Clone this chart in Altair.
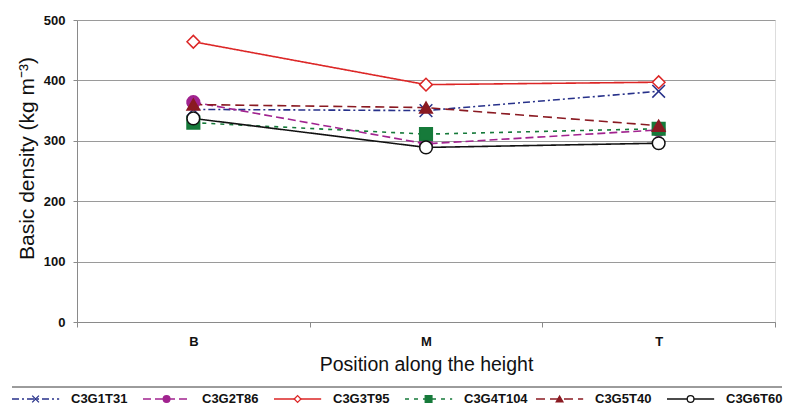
import altair as alt
import pandas as pd

# Positions along the stem height
positions = ["B", "M", "T"]

# Trees (clone 3) and their basic density at each position, kg m-3
series = ["C3G1T31", "C3G2T86", "C3G3T95", "C3G4T104", "C3G5T40", "C3G6T60"]
c3g1t31 = [352, 350, 382]
c3g2t86 = [364, 295, 318]
c3g3t95 = [464, 393, 397]
c3g4t104 = [330, 311, 320]
c3g5t40 = [360, 355, 325]
c3g6t60 = [337, 289, 296]
values = [c3g1t31, c3g2t86, c3g3t95, c3g4t104, c3g5t40, c3g6t60]

rows = [
    {"tree": s, "pos": p, "density": v}
    for s, vals in zip(series, values)
    for p, v in zip(positions, vals)
]
df = pd.DataFrame(rows)
legend_df = pd.DataFrame({"tree": series})

# Per-series styling
line_colors = ["#27318a", "#a1238f", "#dc2626", "#167a3a", "#8a1a22", "#111111"]
fill_colors = ["#27318a", "#a1238f", "#ffffff", "#167a3a", "#8a1a22", "#ffffff"]
dashes = [[7, 3, 2, 3], [8, 4], [1, 0], [4, 5], [9, 5], [1, 0]]
widths = [1.6, 1.6, 1.4, 3.5, 1.6, 1.3]
shapes = ["M-1,-1L1,1M-1,1L1,-1", "circle", "diamond", "square", "triangle-up", "circle"]

stroke_scale = alt.Scale(domain=series, range=line_colors)
fill_scale = alt.Scale(domain=series, range=fill_colors)
dash_scale = alt.Scale(domain=series, range=dashes)
width_scale = alt.Scale(domain=series, range=widths)
shape_scale = alt.Scale(domain=series, range=shapes)

x_main = alt.X(
    "pos:N",
    sort=positions,
    scale=alt.Scale(domain=positions, paddingInner=0, paddingOuter=0),
    axis=alt.Axis(
        title="Position along the height",
        labelAngle=0,
        labelFontWeight="bold",
        labelFontSize=13,
        labelPadding=8,
        titleFontSize=19.5,
        titleFontWeight="normal",
        titlePadding=7,
        tickBand="extent",
        tickSize=5,
        tickColor="#8a8a8a",
        domainColor="#8a8a8a",
        grid=False,
    ),
)
y_main = alt.Y(
    "density:Q",
    scale=alt.Scale(domain=[0, 500], nice=False),
    axis=alt.Axis(
        title="Basic density (kg m\u207b\u00b3)",
        values=[0, 100, 200, 300, 400, 500],
        labelFontWeight="bold",
        labelFontSize=13,
        labelPadding=8,
        titleFontSize=21,
        titleFontWeight="normal",
        titleX=-40,
        titleY=138,
        tickSize=4,
        tickColor="#8a8a8a",
        domainColor="#8a8a8a",
        gridColor="#9a9a9a",
    ),
)

lines = alt.Chart(df).mark_line().encode(
    x=x_main,
    y=y_main,
    detail="tree:N",
    stroke=alt.Stroke("tree:N", scale=stroke_scale, legend=None),
    strokeDash=alt.StrokeDash("tree:N", scale=dash_scale, legend=None),
    strokeWidth=alt.StrokeWidth("tree:N", scale=width_scale, legend=None),
)

points = alt.Chart(df).mark_point(size=160, strokeWidth=1.5, opacity=1, fillOpacity=1).encode(
    x=x_main,
    y=y_main,
    shape=alt.Shape("tree:N", scale=shape_scale, legend=None),
    stroke=alt.Stroke("tree:N", scale=stroke_scale, legend=None),
    fill=alt.Fill("tree:N", scale=fill_scale, legend=None),
)

# Legend row below the x-axis title, drawn from the series list
leg_scale = alt.Scale(domain=series, range=[-65, 721], paddingInner=0, paddingOuter=0)
leg_y = alt.value(379)

separator = alt.Chart(legend_df).mark_rule(color="#9a9a9a", strokeWidth=1).encode(
    x=alt.value(-65), x2=alt.value(705), y=alt.value(367)
)

leg_lines = alt.Chart(legend_df).mark_rule().encode(
    x=alt.X("tree:N", scale=leg_scale, bandPosition=0, axis=None, sort=series),
    x2=alt.X2("tree:N", bandPosition=0.36),
    y=leg_y,
    stroke=alt.Stroke("tree:N", scale=stroke_scale, legend=None),
    strokeDash=alt.StrokeDash("tree:N", scale=dash_scale, legend=None),
    strokeWidth=alt.StrokeWidth("tree:N", scale=width_scale, legend=None),
)

leg_points = alt.Chart(legend_df).mark_point(size=45, strokeWidth=1.3, opacity=1, fillOpacity=1).encode(
    x=alt.X("tree:N", scale=leg_scale, bandPosition=0.18, axis=None, sort=series),
    y=leg_y,
    shape=alt.Shape("tree:N", scale=shape_scale, legend=None),
    stroke=alt.Stroke("tree:N", scale=stroke_scale, legend=None),
    fill=alt.Fill("tree:N", scale=fill_scale, legend=None),
)

leg_text = alt.Chart(legend_df).mark_text(
    align="left", baseline="middle", fontSize=13, fontWeight="bold", xOffset=59, color="#111111"
).encode(
    x=alt.X("tree:N", scale=leg_scale, bandPosition=0, axis=None, sort=series),
    y=leg_y,
    text="tree:N",
)

main = alt.layer(lines, points)
legend = alt.layer(separator, leg_lines, leg_points, leg_text)

chart = (
    alt.layer(main, legend)
    .resolve_scale(x="independent")
    .properties(
        width=698,
        height=302,
        autosize=alt.AutoSizeParams(type="none"),
        padding={"left": 77, "top": 20, "right": 17, "bottom": 84},
        background="white",
    )
    .configure_view(stroke=None)
    .configure(font="Liberation Sans")
    .configure_axis(labelColor="#111111", titleColor="#111111")
)

chart.save("out.html", embed_options={"renderer": "svg", "actions": False})
